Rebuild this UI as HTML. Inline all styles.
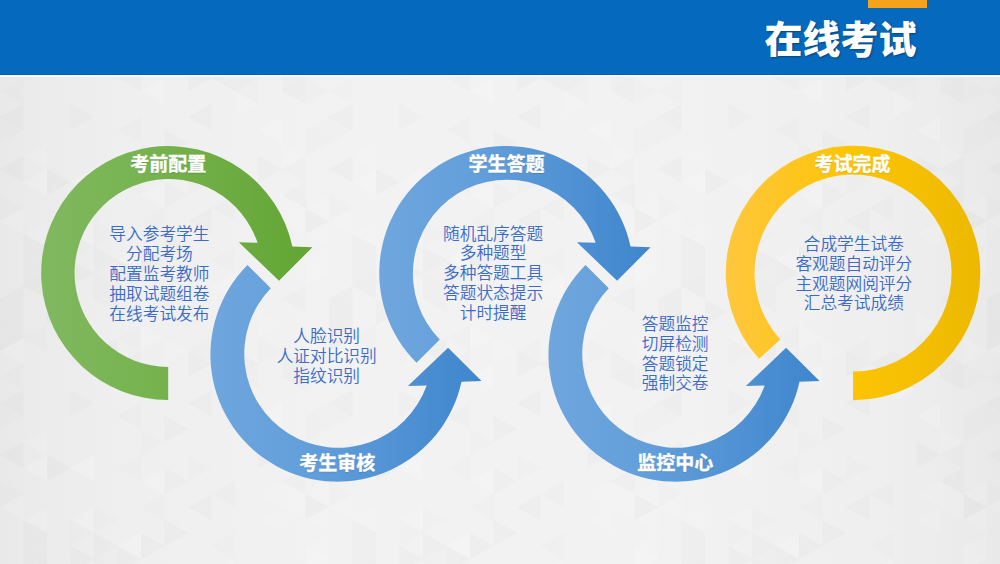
<!DOCTYPE html>
<html lang="zh-CN"><head><meta charset="utf-8"><title>在线考试</title>
<style>
html,body{margin:0;padding:0}
body{width:1000px;height:564px;overflow:hidden;position:relative;background:#efefef;font-family:"Liberation Sans","Noto Sans CJK SC",sans-serif}
.bg{position:absolute;left:0;top:0;width:1000px;height:564px;background:linear-gradient(to right,#e9e9e9 0,#efefef 12%,#f2f2f2 35%,#f2f2f2 65%,#efefef 88%,#e9e9e9 100%)}
.hdr{position:absolute;left:0;top:0;width:1000px;height:74px;background:#0569be;border-bottom:1px solid #045ead;box-shadow:0 2px 0 #f9f9f9}
.tab{position:absolute;left:868px;top:0;width:58.5px;height:8.4px;background:#f5a21c}
.title{position:absolute;left:740.5px;width:200px;top:12px;text-align:center;color:#fff;font-weight:900;font-size:38px;line-height:56px;white-space:nowrap;text-shadow:1px 1px 2px rgba(0,0,0,.35)}
.art{position:absolute;left:0;top:0}
.body{position:absolute;width:300px;text-align:center;color:#3b6bc8;font-size:16.7px;line-height:19.9px;white-space:nowrap;font-weight:350}
.lbl{position:absolute;width:200px;height:28px;line-height:28px;text-align:center;color:#fff;font-weight:700;font-size:19px;white-space:nowrap;text-shadow:0 1px 1px rgba(0,0,0,.15);-webkit-text-stroke:.35px #fff}
</style></head><body>
<div class="bg"></div>
<div class="hdr"></div><div class="tab"></div>
<div class="title">在线考试</div>
<svg class="art" width="1000" height="564" viewBox="0 0 1000 564"><defs><linearGradient id="g" gradientUnits="userSpaceOnUse" x1="41" y1="0" x2="312" y2="0"><stop offset="0" stop-color="#80B860"/><stop offset="0.35" stop-color="#78B451"/><stop offset="1" stop-color="#63A534"/></linearGradient><linearGradient id="b2" gradientUnits="userSpaceOnUse" x1="210" y1="0" x2="481" y2="0"><stop offset="0" stop-color="#6FA6DD"/><stop offset="0.35" stop-color="#639FDB"/><stop offset="1" stop-color="#3F86CD"/></linearGradient><linearGradient id="b3" gradientUnits="userSpaceOnUse" x1="379" y1="0" x2="650" y2="0"><stop offset="0" stop-color="#6FA6DD"/><stop offset="0.35" stop-color="#639FDB"/><stop offset="1" stop-color="#3F86CD"/></linearGradient><linearGradient id="b4" gradientUnits="userSpaceOnUse" x1="548" y1="0" x2="819" y2="0"><stop offset="0" stop-color="#6FA6DD"/><stop offset="0.35" stop-color="#639FDB"/><stop offset="1" stop-color="#3F86CD"/></linearGradient><linearGradient id="y" gradientUnits="userSpaceOnUse" x1="725" y1="0" x2="981" y2="0"><stop offset="0" stop-color="#FFC73E"/><stop offset="0.5" stop-color="#FDC404"/><stop offset="1" stop-color="#ECB900"/></linearGradient><pattern id="tri" patternUnits="userSpaceOnUse" width="329" height="286"><polygon points="23.5,0 23.5,26 0,13" fill="#000" fill-opacity="0.016"/><polygon points="0,13 0,39 23.5,26" fill="#000" fill-opacity="0.016"/><polygon points="23.5,26 23.5,52 0,39" fill="#000" fill-opacity="0.016"/><polygon points="0,39 0,65 23.5,52" fill="#000" fill-opacity="0.016"/><polygon points="23.5,52 23.5,78 0,65" fill="#fff" fill-opacity="0.09"/><polygon points="23.5,78 23.5,104 0,91" fill="#000" fill-opacity="0.006"/><polygon points="23.5,104 23.5,130 0,117" fill="#000" fill-opacity="0.016"/><polygon points="0,117 0,143 23.5,130" fill="#000" fill-opacity="0.006"/><polygon points="23.5,156 23.5,182 0,169" fill="#000" fill-opacity="0.016"/><polygon points="0,195 0,221 23.5,208" fill="#000" fill-opacity="0.006"/><polygon points="23.5,208 23.5,234 0,221" fill="#fff" fill-opacity="0.09"/><polygon points="47,-13 47,13 23.5,0" fill="#000" fill-opacity="0.016"/><polygon points="47,273 47,299 23.5,286" fill="#000" fill-opacity="0.016"/><polygon points="47,39 47,65 23.5,52" fill="#000" fill-opacity="0.006"/><polygon points="47,143 47,169 23.5,156" fill="#fff" fill-opacity="0.09"/><polygon points="47,169 47,195 23.5,182" fill="#fff" fill-opacity="0.15"/><polygon points="47,221 47,247 23.5,234" fill="#fff" fill-opacity="0.09"/><polygon points="23.5,234 23.5,260 47,247" fill="#000" fill-opacity="0.011"/><polygon points="47,247 47,273 23.5,260" fill="#000" fill-opacity="0.011"/><polygon points="23.5,260 23.5,286 47,273" fill="#000" fill-opacity="0.011"/><polygon points="47,13 47,39 70.5,26" fill="#000" fill-opacity="0.016"/><polygon points="47,169 47,195 70.5,182" fill="#000" fill-opacity="0.016"/><polygon points="94,39 94,65 70.5,52" fill="#fff" fill-opacity="0.15"/><polygon points="70.5,52 70.5,78 94,65" fill="#000" fill-opacity="0.006"/><polygon points="70.5,104 70.5,130 94,117" fill="#000" fill-opacity="0.011"/><polygon points="94,169 94,195 70.5,182" fill="#fff" fill-opacity="0.15"/><polygon points="94,221 94,247 70.5,234" fill="#fff" fill-opacity="0.09"/><polygon points="70.5,234 70.5,260 94,247" fill="#000" fill-opacity="0.006"/><polygon points="70.5,260 70.5,286 94,273" fill="#000" fill-opacity="0.016"/><polygon points="94,-13 94,13 117.5,0" fill="#000" fill-opacity="0.011"/><polygon points="94,273 94,299 117.5,286" fill="#000" fill-opacity="0.011"/><polygon points="117.5,0 117.5,26 94,13" fill="#000" fill-opacity="0.011"/><polygon points="117.5,52 117.5,78 94,65" fill="#000" fill-opacity="0.016"/><polygon points="94,221 94,247 117.5,234" fill="#000" fill-opacity="0.006"/><polygon points="94,247 94,273 117.5,260" fill="#000" fill-opacity="0.016"/><polygon points="117.5,260 117.5,286 94,273" fill="#000" fill-opacity="0.006"/><polygon points="141,39 141,65 117.5,52" fill="#000" fill-opacity="0.006"/><polygon points="141,65 141,91 117.5,78" fill="#000" fill-opacity="0.011"/><polygon points="141,117 141,143 117.5,130" fill="#000" fill-opacity="0.011"/><polygon points="141,169 141,195 117.5,182" fill="#000" fill-opacity="0.006"/><polygon points="141,247 141,273 117.5,260" fill="#fff" fill-opacity="0.15"/><polygon points="117.5,260 117.5,286 141,273" fill="#000" fill-opacity="0.016"/><polygon points="141,13 141,39 164.5,26" fill="#fff" fill-opacity="0.09"/><polygon points="141,39 141,65 164.5,52" fill="#fff" fill-opacity="0.15"/><polygon points="164.5,78 164.5,104 141,91" fill="#fff" fill-opacity="0.15"/><polygon points="141,143 141,169 164.5,156" fill="#000" fill-opacity="0.006"/><polygon points="164.5,182 164.5,208 141,195" fill="#fff" fill-opacity="0.15"/><polygon points="164.5,208 164.5,234 141,221" fill="#000" fill-opacity="0.006"/><polygon points="141,247 141,273 164.5,260" fill="#000" fill-opacity="0.016"/><polygon points="164.5,52 164.5,78 188,65" fill="#fff" fill-opacity="0.09"/><polygon points="164.5,130 164.5,156 188,143" fill="#000" fill-opacity="0.016"/><polygon points="164.5,182 164.5,208 188,195" fill="#000" fill-opacity="0.011"/><polygon points="164.5,234 164.5,260 188,247" fill="#000" fill-opacity="0.016"/><polygon points="211.5,52 211.5,78 188,65" fill="#000" fill-opacity="0.006"/><polygon points="188,65 188,91 211.5,78" fill="#000" fill-opacity="0.016"/><polygon points="211.5,104 211.5,130 188,117" fill="#000" fill-opacity="0.016"/><polygon points="188,169 188,195 211.5,182" fill="#000" fill-opacity="0.006"/><polygon points="211.5,208 211.5,234 188,221" fill="#000" fill-opacity="0.016"/><polygon points="235,-13 235,13 211.5,0" fill="#fff" fill-opacity="0.15"/><polygon points="235,273 235,299 211.5,286" fill="#fff" fill-opacity="0.15"/><polygon points="211.5,0 211.5,26 235,13" fill="#fff" fill-opacity="0.09"/><polygon points="235,65 235,91 211.5,78" fill="#000" fill-opacity="0.016"/><polygon points="235,195 235,221 211.5,208" fill="#000" fill-opacity="0.011"/><polygon points="235,247 235,273 211.5,260" fill="#000" fill-opacity="0.006"/><polygon points="235,65 235,91 258.5,78" fill="#000" fill-opacity="0.016"/><polygon points="258.5,78 258.5,104 235,91" fill="#000" fill-opacity="0.006"/><polygon points="235,91 235,117 258.5,104" fill="#fff" fill-opacity="0.09"/><polygon points="258.5,26 258.5,52 282,39" fill="#fff" fill-opacity="0.09"/><polygon points="258.5,52 258.5,78 282,65" fill="#000" fill-opacity="0.006"/><polygon points="282,117 282,143 258.5,130" fill="#fff" fill-opacity="0.15"/><polygon points="258.5,156 258.5,182 282,169" fill="#000" fill-opacity="0.016"/><polygon points="282,195 282,221 258.5,208" fill="#fff" fill-opacity="0.09"/><polygon points="282,221 282,247 258.5,234" fill="#fff" fill-opacity="0.09"/><polygon points="305.5,0 305.5,26 282,13" fill="#000" fill-opacity="0.011"/><polygon points="282,65 282,91 305.5,78" fill="#000" fill-opacity="0.011"/><polygon points="305.5,78 305.5,104 282,91" fill="#000" fill-opacity="0.016"/><polygon points="282,143 282,169 305.5,156" fill="#fff" fill-opacity="0.09"/><polygon points="305.5,156 305.5,182 282,169" fill="#000" fill-opacity="0.006"/><polygon points="305.5,182 305.5,208 282,195" fill="#000" fill-opacity="0.011"/><polygon points="282,195 282,221 305.5,208" fill="#fff" fill-opacity="0.09"/><polygon points="305.5,208 305.5,234 282,221" fill="#fff" fill-opacity="0.09"/><polygon points="305.5,52 305.5,78 329,65" fill="#fff" fill-opacity="0.09"/><polygon points="305.5,78 305.5,104 329,91" fill="#000" fill-opacity="0.006"/><polygon points="329,117 329,143 305.5,130" fill="#000" fill-opacity="0.006"/><polygon points="305.5,130 305.5,156 329,143" fill="#000" fill-opacity="0.006"/><polygon points="329,195 329,221 305.5,208" fill="#fff" fill-opacity="0.09"/><polygon points="305.5,208 305.5,234 329,221" fill="#000" fill-opacity="0.016"/><polygon points="329,221 329,247 305.5,234" fill="#fff" fill-opacity="0.09"/><polygon points="329,247 329,273 305.5,260" fill="#fff" fill-opacity="0.09"/><polygon points="305.5,260 305.5,286 329,273" fill="#fff" fill-opacity="0.15"/></pattern></defs><rect x="0" y="76" width="1000" height="488" fill="url(#tri)"/><path d="M168.2 400.0 A127 127 0 1 1 292.4 246.6 L312.4 247.3 L279.0 280.7 L238.8 242.3 L257.6 242.8 A94 94 0 1 0 168.2 367.0 Z" fill="url(#g)"/><path d="M247.5 265.0 A127 127 0 1 0 461.5 381.8 L481.5 381.1 L448.1 347.7 L407.9 386.1 L426.7 385.6 A94 94 0 1 1 270.8 288.3 Z" fill="url(#b2)"/><path d="M416.5 362.8 A127 127 0 1 1 630.5 246.6 L650.5 247.3 L617.1 280.7 L576.9 242.3 L595.7 242.8 A94 94 0 1 0 439.8 339.5 Z" fill="url(#b3)"/><path d="M585.5 265.0 A127 127 0 1 0 799.5 381.8 L819.5 381.1 L786.1 347.7 L745.9 386.1 L764.7 385.6 A94 94 0 1 1 608.8 288.3 Z" fill="url(#b4)"/><path d="M759.0 358.8 A127.3 127.3 0 1 1 853.0 400.3 L853.0 371.5 A98.5 98.5 0 1 0 780.3 339.4 Z" fill="url(#y)"/></svg>
<div class="lbl" style="left:68.3px;top:151.3px">考前配置</div><div class="lbl" style="left:237.3px;top:449.7px">考生审核</div><div class="lbl" style="left:406.4px;top:151.3px">学生答题</div><div class="lbl" style="left:575.3px;top:449.8px">监控中心</div><div class="lbl" style="left:752.5px;top:151.1px">考试完成</div>
<div class="body" style="left:9.4px;top:225px">导入参考学生<br>分配考场<br>配置监考教师<br>抽取试题组卷<br>在线考试发布</div>
<div class="body" style="left:176.7px;top:326.7px">人脸识别<br>人证对比识别<br>指纹识别</div>
<div class="body" style="left:343.1px;top:224.5px">随机乱序答题<br>多种题型<br>多种答题工具<br>答题状态提示<br>计时提醒</div>
<div class="body" style="left:525.2px;top:314.7px">答题监控<br>切屏检测<br>答题锁定<br>强制交卷</div>
<div class="body" style="left:703.8px;top:234.7px">合成学生试卷<br>客观题自动评分<br>主观题网阅评分<br>汇总考试成绩</div>
</body></html>
